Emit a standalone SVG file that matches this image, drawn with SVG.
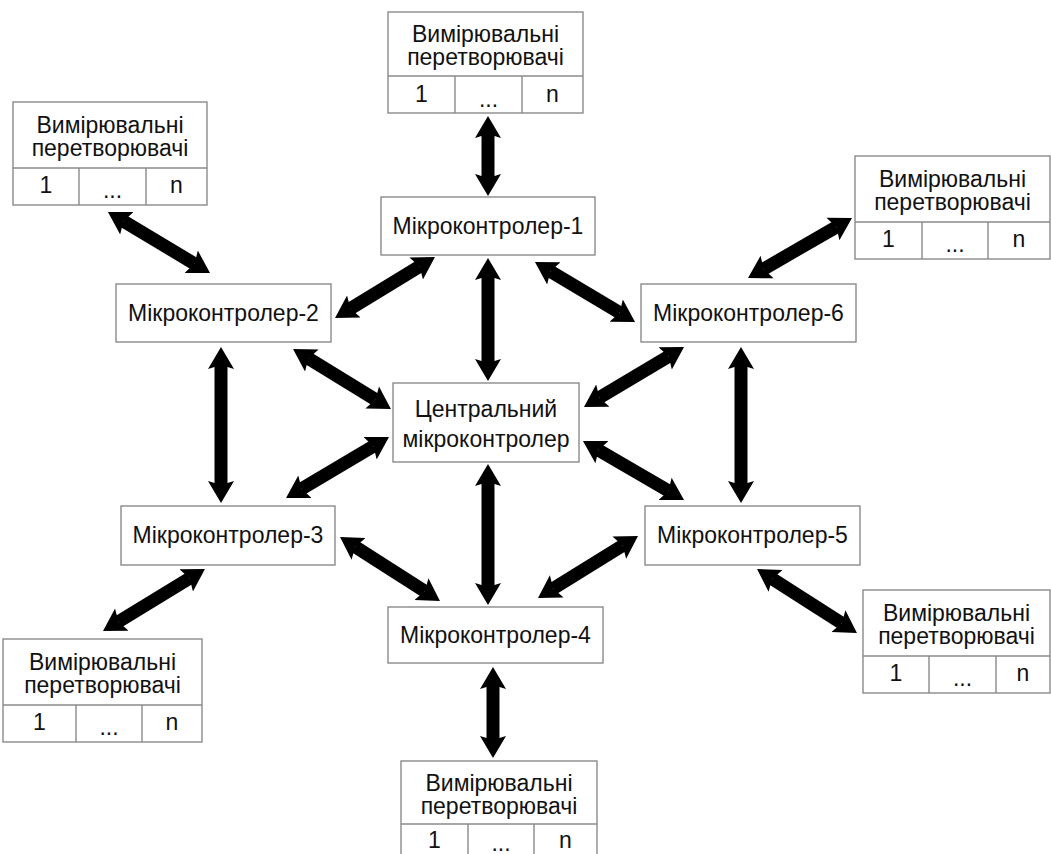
<svg xmlns="http://www.w3.org/2000/svg" width="1051" height="854" viewBox="0 0 1051 854">
<style>
.box{fill:#fff;stroke:#8a8a8a;stroke-width:1.4}
.ln{stroke:#8a8a8a;stroke-width:1.4;fill:none}
.t{font-family:"Liberation Sans",Arial,sans-serif;font-size:23px;fill:#111;text-anchor:middle}
.arr{stroke:#000;stroke-width:13;fill:none;marker-start:url(#ah);marker-end:url(#ah)}
</style>
<defs>
<marker id="ah" markerUnits="userSpaceOnUse" markerWidth="24" markerHeight="28" viewBox="0 -14 24 28" refX="4" refY="0" orient="auto-start-reverse">
<path d="M0,-13 L22,0 L0,13 L4,0 Z" fill="#000"/>
</marker>
</defs>
<rect width="1051" height="854" fill="#fff"/>

<g id="connectors">
<line class="arr" x1="488" y1="134" x2="488" y2="178"/>
<line class="arr" x1="488" y1="276" x2="488" y2="363"/>
<line class="arr" x1="488" y1="482" x2="488" y2="587"/>
<line class="arr" x1="493" y1="685" x2="493" y2="740"/>
<line class="arr" x1="221" y1="365" x2="221" y2="485"/>
<line class="arr" x1="741" y1="365" x2="741" y2="485"/>
<line class="arr" x1="123.4" y1="221.2" x2="194.6" y2="263.8"/>
<line class="arr" x1="350.4" y1="308.6" x2="419.6" y2="266.4"/>
<line class="arr" x1="550.4" y1="271.3" x2="619.6" y2="312.7"/>
<line class="arr" x1="836.4" y1="227" x2="763.6" y2="269"/>
<line class="arr" x1="308.4" y1="358.4" x2="375.6" y2="399.6"/>
<line class="arr" x1="668.6" y1="356.3" x2="599.4" y2="397.7"/>
<line class="arr" x1="373.5" y1="446.2" x2="301.5" y2="488.8"/>
<line class="arr" x1="598.5" y1="450.1" x2="668.5" y2="490.9"/>
<line class="arr" x1="355.2" y1="546.7" x2="424.8" y2="591.3"/>
<line class="arr" x1="622.7" y1="545.5" x2="553.3" y2="588.5"/>
<line class="arr" x1="189.6" y1="578.3" x2="118.4" y2="621.7"/>
<line class="arr" x1="772.2" y1="578.7" x2="841.8" y2="623.3"/>
</g>

<g id="central">
<rect class="box" x="393" y="383" width="186" height="79"/>
<text class="t" x="486" y="417">Центральний</text>
<text class="t" x="486" y="447">мікроконтролер</text>
</g>

<g id="mc1">
<rect class="box" x="381" y="197" width="214" height="58"/>
<text class="t" x="488" y="234">Мікроконтролер-1</text>
</g>
<g id="mc2">
<rect class="box" x="116" y="284" width="215" height="58"/>
<text class="t" x="223.5" y="321">Мікроконтролер-2</text>
</g>
<g id="mc3">
<rect class="box" x="121" y="506" width="214" height="59"/>
<text class="t" x="228" y="543">Мікроконтролер-3</text>
</g>
<g id="mc4">
<rect class="box" x="388" y="607" width="215" height="56"/>
<text class="t" x="495.5" y="643">Мікроконтролер-4</text>
</g>
<g id="mc5">
<rect class="box" x="645" y="506" width="215" height="59"/>
<text class="t" x="752.5" y="543">Мікроконтролер-5</text>
</g>
<g id="mc6">
<rect class="box" x="641" y="284" width="215" height="58"/>
<text class="t" x="748.5" y="321">Мікроконтролер-6</text>
</g>

<g id="sensors-top">
<rect class="box" x="388" y="12" width="195" height="101"/>
<path class="ln" d="M388,76 H583 M455,76 V113 M522,76 V113"/>
<text class="t" x="485.5" y="42">Вимірювальні</text>
<text class="t" x="485.5" y="65">перетворювачі</text>
<text class="t" x="421.5" y="102">1</text>
<text class="t" x="488.5" y="107">...</text>
<text class="t" x="552.5" y="102">n</text>
</g>

<g id="sensors-top-left">
<rect class="box" x="13" y="102" width="194" height="103"/>
<path class="ln" d="M13,168 H207 M79,168 V205 M146,168 V205"/>
<text class="t" x="110" y="133">Вимірювальні</text>
<text class="t" x="110" y="156">перетворювачі</text>
<text class="t" x="46" y="193">1</text>
<text class="t" x="112.5" y="198">...</text>
<text class="t" x="176.5" y="193">n</text>
</g>

<g id="sensors-top-right">
<rect class="box" x="855" y="156" width="195" height="103"/>
<path class="ln" d="M855,222 H1050 M922,222 V259 M988,222 V259"/>
<text class="t" x="952.5" y="187">Вимірювальні</text>
<text class="t" x="952.5" y="210">перетворювачі</text>
<text class="t" x="888.5" y="247">1</text>
<text class="t" x="955" y="252">...</text>
<text class="t" x="1019" y="247">n</text>
</g>

<g id="sensors-bottom-left">
<rect class="box" x="3" y="639" width="199" height="103"/>
<path class="ln" d="M3,705 H202 M76,705 V742 M142,705 V742"/>
<text class="t" x="102.5" y="670">Вимірювальні</text>
<text class="t" x="102.5" y="693">перетворювачі</text>
<text class="t" x="39.5" y="730">1</text>
<text class="t" x="109" y="735">...</text>
<text class="t" x="172" y="730">n</text>
</g>

<g id="sensors-bottom-right">
<rect class="box" x="863" y="590" width="187" height="103"/>
<path class="ln" d="M863,656 H1050 M929,656 V693 M996,656 V693"/>
<text class="t" x="956.5" y="621">Вимірювальні</text>
<text class="t" x="956.5" y="644">перетворювачі</text>
<text class="t" x="896" y="681">1</text>
<text class="t" x="962.5" y="686">...</text>
<text class="t" x="1023" y="681">n</text>
</g>

<g id="sensors-bottom">
<rect class="box" x="401" y="761" width="196" height="103"/>
<path class="ln" d="M401,824 H597 M468,824 V864 M534,824 V864"/>
<text class="t" x="499" y="791">Вимірювальні</text>
<text class="t" x="499" y="814">перетворювачі</text>
<text class="t" x="434.5" y="848">1</text>
<text class="t" x="501" y="851">...</text>
<text class="t" x="565.5" y="848">n</text>
</g>
</svg>
